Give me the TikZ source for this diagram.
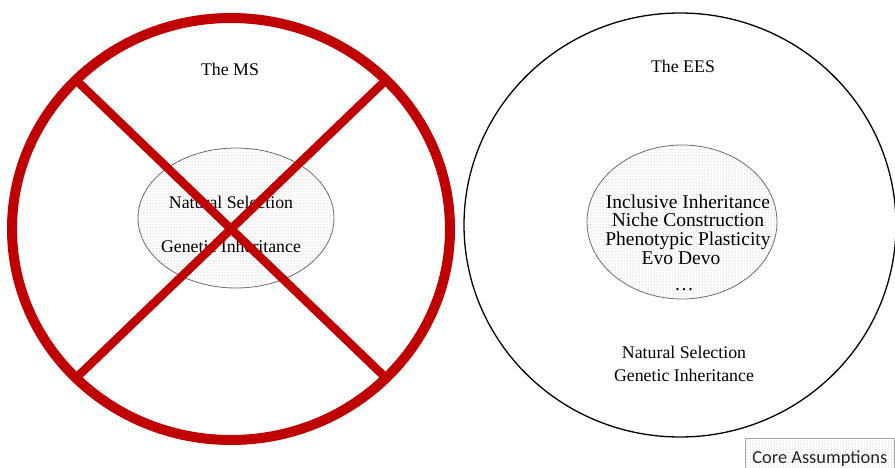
\documentclass[tikz,border=0pt]{standalone}
\usepackage{fontspec}
\setmainfont{Liberation Serif}
\newfontfamily\corefont{Carlito}
\usepackage{xcolor}
\usetikzlibrary{patterns, shapes.geometric}
\definecolor{crossred}{RGB}{192,0,0}
\tikzset{
  bodytext/.style={anchor=base, inner sep=0pt, font=\fontsize{17.8}{20}\selectfont},
  coretext/.style={anchor=base, inner sep=0pt, font=\fontsize{19.5}{19}\selectfont},
  corefill/.style={draw=gray!85!black, line width=0.8pt, pattern=dots, pattern color=gray!70},
  theory/.style={ellipse, inner sep=0pt}
}

\begin{document}
\begin{tikzpicture}[x=1pt, y=-1pt]
\useasboundingbox (0,0) rectangle (895,468);

% the EES (right)
\node[theory, draw=black, line width=1.3pt, minimum width=432, minimum height=424] (ees) at (680,225) {};
\node[bodytext] (eesTitle) at (683,72.7) {The EES};
\node[theory, corefill, minimum width=190, minimum height=154] (eesCore) at (682,222) {};
\node[coretext] (inclusive) at (688,208) {Inclusive Inheritance};
\node[coretext] (niche) at (688,226.5) {Niche Construction};
\node[coretext] (plasticity) at (688,245.5) {Phenotypic Plasticity};
\node[coretext] (evodevo) at (681,264.5) {Evo Devo};
\node[coretext] (more) at (684,290) {\dots};
\node[bodytext] (eesSel) at (684,358) {Natural Selection};
\node[bodytext] (eesGen) at (684,381) {Genetic Inheritance};

% the MS (left)
\node[bodytext] (msTitle) at (230,76) {The MS};
\node[theory, corefill, minimum width=196, minimum height=140] (msCore) at (236,218) {};
\node[bodytext] (msSel) at (231,209) {Natural Selection};
\node[bodytext] (msGen) at (231,252.7) {Genetic Inheritance};

% crossed out
\node[theory, draw=crossred, line width=10pt, minimum width=438, minimum height=422] (ms) at (231,229) {};
\coordinate (msNW) at (76,80);
\coordinate (msNE) at (386,80);
\coordinate (msSW) at (76,378);
\coordinate (msSE) at (386,378);
\draw[crossred, line width=8.5pt] (msNW) -- (msSE);
\draw[crossred, line width=8.5pt] (msNE) -- (msSW);

% key
\node[corefill, draw=gray!70, anchor=base west, inner xsep=7pt, inner ysep=5pt, text height=20pt, text depth=20pt,
  font=\corefont\fontsize{18.4}{20}\selectfont, text=black!85] (key) at (745,463) {Core Assumptions};
\end{tikzpicture}
\end{document}
